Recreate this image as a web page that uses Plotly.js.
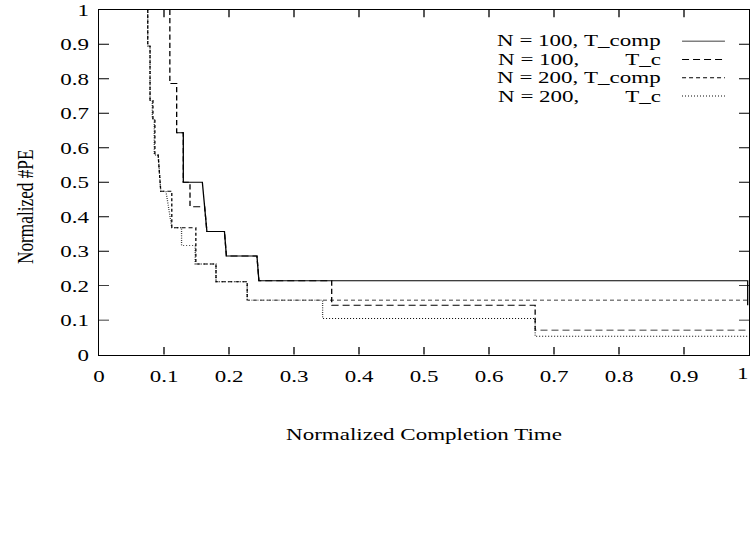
<!DOCTYPE html>
<html>
<head>
<meta charset="utf-8">
<script src="https://cdn.plot.ly/plotly-3.0.1.min.js"></script>
<style>
html,body{margin:0;padding:0;background:#fff;overflow:hidden;}
#wrap{width:751px;height:557px;overflow:hidden;}
#chart{width:751px;height:743px;transform:scale(1,0.7497);transform-origin:0 0;}
</style>
</head>
<body>
<div id="wrap"><div id="chart"></div></div>
<script>
// ---- data ----
const seriesNames = ["N = 100, T_comp", "N = 100,        T_c", "N = 200, T_comp", "N = 200,        T_c"];

const n100CompX = [0.1195, 0.1297, 0.1297, 0.159, 0.166, 0.193, 0.196, 0.243, 0.246, 0.998, 0.998];
const n100CompY = [0.643, 0.643, 0.5, 0.5, 0.357, 0.357, 0.286, 0.286, 0.214, 0.214, 0.143];

const n100TcX = [0.109, 0.109, 0.1195, 0.1195, 0.1297, 0.1297, 0.14, 0.14, 0.1625, 0.166, 0.193, 0.196, 0.243, 0.246, 0.358, 0.358, 0.671, 0.671, 1.0];
const n100TcY = [1.0, 0.786, 0.786, 0.643, 0.643, 0.5, 0.5, 0.429, 0.429, 0.357, 0.357, 0.286, 0.286, 0.214, 0.214, 0.143, 0.143, 0.071, 0.071];

const n200CompX = [0.075, 0.075, 0.0785, 0.0785, 0.083, 0.083, 0.086, 0.086, 0.091, 0.095, 0.112, 0.112, 0.149, 0.149, 0.18, 0.18, 0.228, 0.228, 1.0];
const n200CompY = [1.0, 0.895, 0.895, 0.737, 0.737, 0.684, 0.684, 0.579, 0.579, 0.474, 0.474, 0.368, 0.368, 0.263, 0.263, 0.211, 0.211, 0.158, 0.158];

const n200TcX = [0.075, 0.075, 0.0785, 0.0785, 0.082, 0.082, 0.085, 0.085, 0.091, 0.095, 0.103, 0.112, 0.127, 0.127, 0.148, 0.148, 0.18, 0.18, 0.228, 0.228, 0.344, 0.344, 0.671, 0.671, 1.0];
const n200TcY = [1.0, 0.895, 0.895, 0.737, 0.737, 0.684, 0.684, 0.579, 0.579, 0.474, 0.474, 0.368, 0.368, 0.316, 0.316, 0.263, 0.263, 0.211, 0.211, 0.158, 0.158, 0.105, 0.105, 0.053, 0.053];

const tickVals = [0, 0.1, 0.2, 0.3, 0.4, 0.5, 0.6, 0.7, 0.8, 0.9, 1];
const tickText = ["0", "0.1", "0.2", "0.3", "0.4", "0.5", "0.6", "0.7", "0.8", "0.9", "1"];
const xTitle = "Normalized Completion Time";
const yTitle = "Normalized #PE";

// ---- styles ----
const dashes = ["solid", "7px,4px", "4px,3px", "1px,2px"];
const font = "Liberation Serif, Times New Roman, serif";
const fs = 23;

const xs = [n100CompX, n100TcX, n200CompX, n200TcX];
const ys = [n100CompY, n100TcY, n200CompY, n200TcY];

const traces = xs.map((x, i) => ({
  x: x, y: ys[i], type: "scatter", mode: "lines", name: seriesNames[i],
  line: {color: "#000", width: 1.3, dash: dashes[i]}, showlegend: false
}));

// gnuplot-style key: text right-aligned, line sample to its right
const keyRowsY = [0.909, 0.856, 0.803, 0.750];
const annotations = seriesNames.map((n, i) => ({
  xref: "paper", yref: "paper", x: 0.868, y: keyRowsY[i], xanchor: "right", yanchor: "middle",
  text: n.replace(/ /g, "&nbsp;"), showarrow: false, font: {family: font, size: fs, color: "#000"}
}));
annotations.push({
  xref: "paper", yref: "paper", x: 0.5, y: -0.232, xanchor: "center", yanchor: "middle",
  text: xTitle, showarrow: false, font: {family: font, size: fs, color: "#000"}
});
annotations.push({
  xref: "paper", yref: "paper", x: -0.114, y: 0.43, xanchor: "center", yanchor: "middle", textangle: -90,
  text: yTitle, showarrow: false, font: {family: font, size: fs, color: "#000"}
});
// last x tick label sits on the window edge: draw it as a right-anchored label so it stays whole
const xTickTextShown = tickText.slice(0, -1).concat([""]);
annotations.push({
  xref: "paper", yref: "paper", x: 1.003, y: 0, xanchor: "right", yanchor: "top", yshift: -10,
  text: tickText[tickText.length - 1], showarrow: false, font: {family: font, size: fs, color: "#000"}
});
const shapes = seriesNames.map((n, i) => ({
  type: "line", xref: "paper", yref: "paper", x0: 0.897, x1: 0.963, y0: keyRowsY[i], y1: keyRowsY[i],
  line: {color: "#000", width: 1.3, dash: dashes[i]}
}));

const axisCommon = {
  range: [0, 1], tickmode: "array", tickvals: tickVals,
  ticks: "inside", ticklen: 10, tickwidth: 1.3, tickcolor: "#000",
  showline: true, linecolor: "#000", linewidth: 1.4, mirror: "ticks",
  showgrid: false, zeroline: false,
  tickfont: {family: font, size: fs, color: "#000"}
};

const layout = {
  width: 751, height: 743,
  margin: {l: 99, r: 2, t: 13, b: 270},
  paper_bgcolor: "#fff", plot_bgcolor: "#fff",
  xaxis: Object.assign({}, axisCommon, {ticktext: xTickTextShown, ticklabelstandoff: 8}),
  yaxis: Object.assign({}, axisCommon, {ticktext: tickText, ticklabelstandoff: 4}),
  annotations: annotations,
  shapes: shapes
};

Plotly.newPlot("chart", traces, layout, {displayModeBar: false, staticPlot: true});
</script>
</body>
</html>
